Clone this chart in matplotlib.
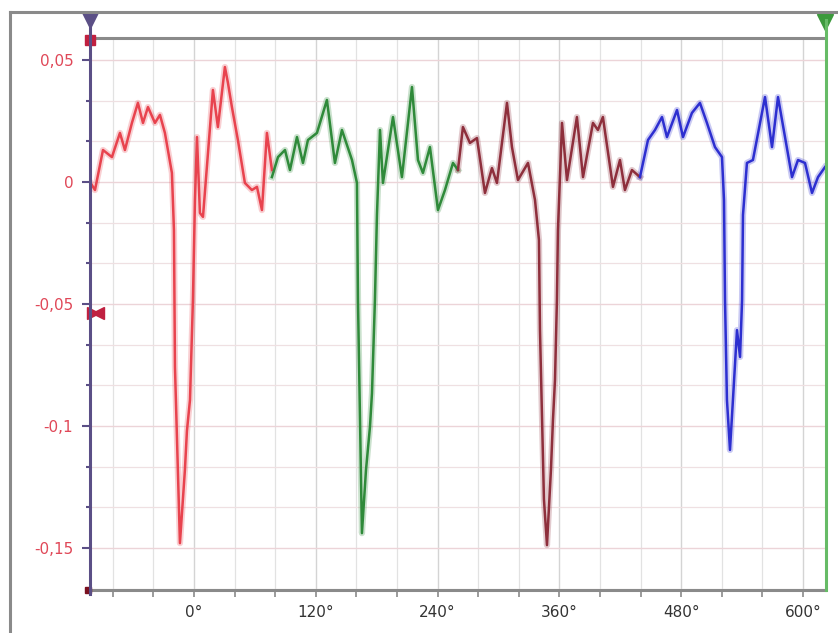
import matplotlib
matplotlib.use("Agg")
import matplotlib.pyplot as plt
from matplotlib.lines import Line2D
from matplotlib.ticker import FixedLocator, FixedFormatter, MultipleLocator

# ---- data (angle in degrees, value) ----
red_deg = [-102.4, -97.5, -89.6, -80.8, -72.9, -68.0, -61.1, -55.2, -50.2, -45.3, -38.4, -33.5,
           -28.6, -21.7, -19.7, -18.7, -13.8, -8.9, -6.9, -3.9, -1.0, 1.0, 3.0, 5.9, 8.9, 18.7,
           23.6, 30.5, 33.5, 37.4, 43.3, 50.2, 57.1, 62.1, 67.0, 71.9, 76.8]
red_val = [0.0000, -0.0033, 0.0131, 0.0102, 0.0201, 0.0131, 0.0242, 0.0324, 0.0242, 0.0307, 0.0242,
           0.0275, 0.0201, 0.0037, -0.0197, -0.0758, -0.1480, -0.1180, -0.1020, -0.0893, -0.0484,
           -0.0074, 0.0184, -0.0127, -0.0143, 0.0377, 0.0225, 0.0471, 0.0406, 0.0307, 0.0172,
           -0.0004, -0.0033, -0.0020, -0.0115, 0.0201, 0.0049]

green_deg = [76.8, 82.8, 89.7, 94.6, 101.5, 107.4, 112.3, 121.2, 131.0, 138.9, 145.8, 155.7, 160.6,
             161.6, 165.5, 169.5, 173.4, 175.4, 178.3, 180.3, 183.3, 186.2, 196.1, 204.9, 214.8,
             220.7, 225.6, 232.5, 240.4, 247.3, 255.2, 260.1]
green_val = [0.0020, 0.0102, 0.0131, 0.0049, 0.0184, 0.0078, 0.0172, 0.0201, 0.0336, 0.0078, 0.0213,
             0.0090, -0.0004, -0.0484, -0.1439, -0.1180, -0.1004, -0.0865, -0.0484, -0.0135, 0.0213,
             -0.0004, 0.0266, 0.0020, 0.0389, 0.0090, 0.0037, 0.0143, -0.0115, -0.0033, 0.0078, 0.0049]

brown_deg = [260.1, 265.0, 271.9, 278.8, 286.7, 293.6, 298.5, 308.4, 313.3, 319.2, 329.1, 336.0,
             339.9, 340.9, 344.8, 347.8, 351.7, 353.7, 355.7, 357.6, 358.6, 362.6, 367.5, 377.3,
             383.3, 393.1, 398.0, 402.9, 412.8, 419.7, 424.6, 431.5, 439.4]
brown_val = [0.0049, 0.0225, 0.0160, 0.0180, -0.0045, 0.0057, -0.0004, 0.0324, 0.0143, 0.0008,
             0.0078, -0.0074, -0.0238, -0.0607, -0.1300, -0.1488, -0.1180, -0.0975, -0.0811,
             -0.0484, -0.0197, 0.0242, 0.0008, 0.0266, 0.0020, 0.0242, 0.0213, 0.0266, -0.0020,
             0.0090, -0.0033, 0.0049, 0.0020]

blue_deg = [439.4, 447.3, 454.2, 461.1, 466.0, 475.9, 481.8, 490.6, 498.5, 505.4, 513.3, 520.2,
            522.2, 523.2, 525.1, 528.1, 531.0, 535.0, 538.0, 540.0, 540.9, 544.8, 550.7, 562.6,
            569.5, 575.4, 589.2, 595.1, 602.0, 608.9, 614.8, 621.7]
blue_val = [0.0020, 0.0172, 0.0213, 0.0266, 0.0184, 0.0295, 0.0184, 0.0283, 0.0324, 0.0242, 0.0143,
            0.0102, -0.0074, -0.0484, -0.0893, -0.1098, -0.0893, -0.0607, -0.0717, -0.0484,
            -0.0135, 0.0078, 0.0090, 0.0348, 0.0143, 0.0348, 0.0020, 0.0090, 0.0078, -0.0045,
            0.0020, 0.0061]

x_ticks = [0, 120, 240, 360, 480, 600]
x_labels = ["0°", "120°", "240°", "360°", "480°", "600°"]
y_ticks = [0.05, 0.0, -0.05, -0.1, -0.15]
y_labels = ["0,05", "0", "-0,05", "-0,1", "-0,15"]

W, H = 838, 633
fig = plt.figure(figsize=(W / 100, H / 100), dpi=100)
fig.patch.set_facecolor("white")
ax = fig.add_axes([90 / W, 1 - 590 / H, (825 - 90) / W, (590 - 38) / H])
xmin, xmax = -102.4, 621.7
ymin, ymax = -0.1672, 0.0590
ax.set_xlim(xmin, xmax)
ax.set_ylim(ymin, ymax)

# grid
ax.xaxis.set_major_locator(FixedLocator(x_ticks))
ax.xaxis.set_major_formatter(FixedFormatter(x_labels))
ax.xaxis.set_minor_locator(MultipleLocator(40))
ax.yaxis.set_major_locator(FixedLocator(y_ticks))
ax.yaxis.set_major_formatter(FixedFormatter(y_labels))
ax.yaxis.set_minor_locator(MultipleLocator(0.05 / 3))
ax.grid(which="major", axis="x", color="#d4d4d4", lw=1.0)
ax.grid(which="minor", axis="x", color="#e2e2e2", lw=0.9)
ax.grid(which="major", axis="y", color="#ecd4d8", lw=1.0)
ax.grid(which="minor", axis="y", color="#efe0e2", lw=0.9)
ax.set_axisbelow(True)

series = [
    (red_deg, red_val, "#e8434e"),
    (green_deg, green_val, "#2f8a3a"),
    (brown_deg, brown_val, "#8e2f3c"),
    (blue_deg, blue_val, "#2d2fd0"),
]
for d, v, c in series:
    ax.plot(d, v, color=c, lw=4.5, alpha=0.25, solid_joinstyle="round", zorder=3)
    ax.plot(d, v, color=c, lw=1.8, solid_joinstyle="round", zorder=4)

# spines
for s in ["top", "bottom"]:
    ax.spines[s].set_color("#8a8a8a")
    ax.spines[s].set_linewidth(2.2)
ax.spines["left"].set_visible(False)
ax.spines["right"].set_visible(False)

ax.tick_params(axis="x", which="both", colors="#8a8a8a", length=5, width=1.2,
               labelcolor="#333333", labelsize=11, pad=6)
ax.tick_params(axis="y", which="major", colors="#5b4f86", length=6, width=1.5,
               labelcolor="#e04858", labelsize=11, pad=6)
ax.tick_params(axis="y", which="minor", colors="#5b4f86", length=3, width=1.5)

# purple y-axis line and green right cursor line (extend above plot)
def fx(px):
    return px / W

def fy(py):
    return 1 - py / H

fig.add_artist(Line2D([fx(90), fx(90)], [fy(18), fy(594)], color="#5b4f86", lw=2.2))
fig.add_artist(Line2D([fx(826), fx(826)], [fy(20), fy(590)], color="#66bb66", lw=2.2))
# outer frame
fig.add_artist(Line2D([fx(10), fx(838)], [fy(12), fy(12)], color="#8a8a8a", lw=2.2))
fig.add_artist(Line2D([fx(10), fx(10)], [fy(12), fy(633)], color="#8a8a8a", lw=2.2))

# cursor markers
ax.plot([xmin], [0.0664], marker="v", ms=11, color="#5b4f86", clip_on=False, zorder=6)
ax.plot([xmax], [0.0656], marker="v", ms=11, color="#3c9a3c", clip_on=False, zorder=6)
ax.plot([xmin], [0.0580], marker="s", ms=7, color="#c02040", clip_on=False, zorder=6)
ax.plot([xmin + 3], [-0.0535], marker=">", ms=8, color="#c02040", clip_on=False, zorder=6)
ax.plot([xmin + 8], [-0.0535], marker="<", ms=8, color="#c02040", clip_on=False, zorder=6)
ax.plot([xmin - 2], [ymin], marker="s", ms=5, color="#7a1020", clip_on=False, zorder=6)

fig.savefig("out.png", dpi=100, facecolor="white")
